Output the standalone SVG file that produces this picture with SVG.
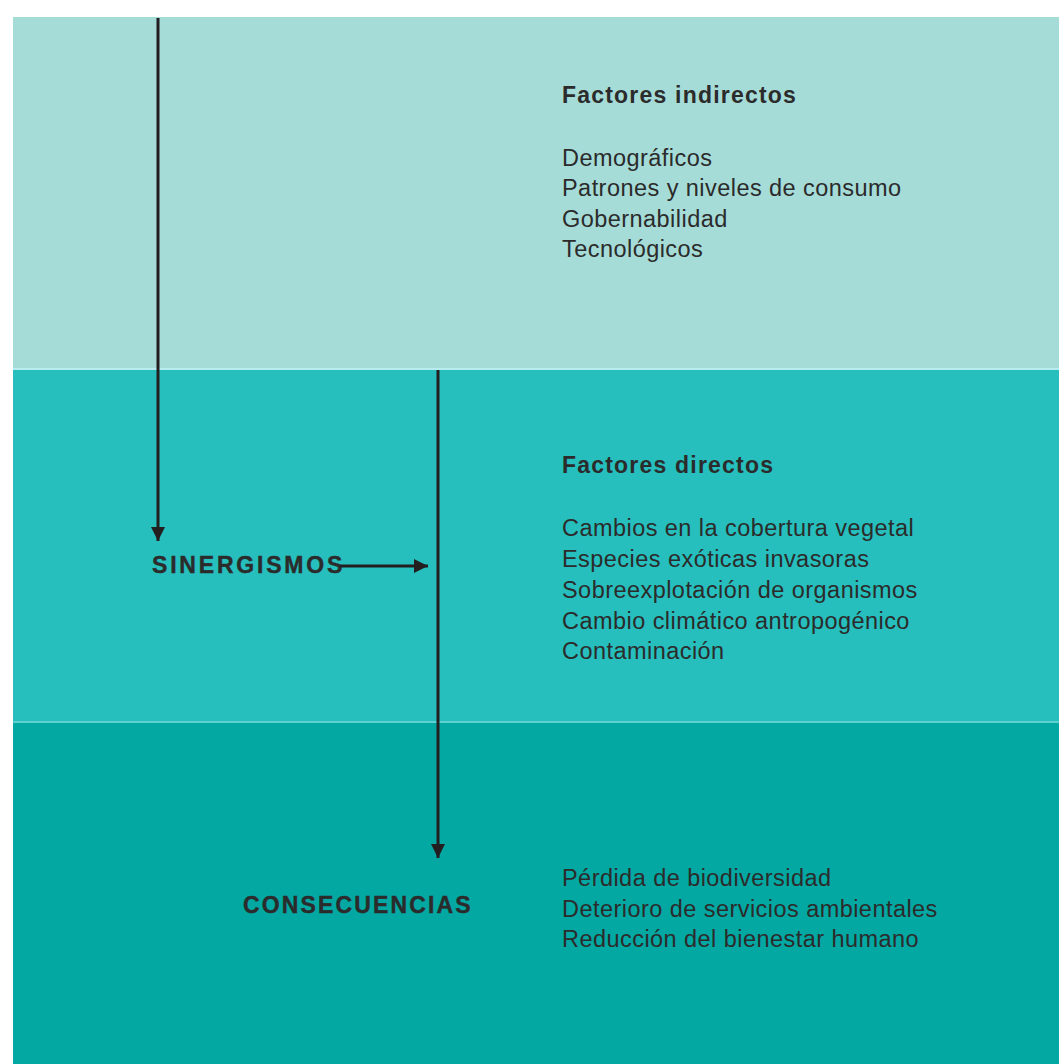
<svg xmlns="http://www.w3.org/2000/svg" width="1059" height="1064" viewBox="0 0 1059 1064">
<defs>
<marker id="ah" viewBox="0 0 10 10" refX="10" refY="5" markerWidth="14" markerHeight="14" markerUnits="userSpaceOnUse" orient="auto"><path d="M0,0 L10,5 L0,10 z" fill="#231f20"/></marker>
<style>
.t{font-family:"Liberation Sans",Arial,sans-serif;font-size:23.5px;fill:#2b2b2b;letter-spacing:0.45px}
.h{font-family:"Liberation Sans",Arial,sans-serif;font-size:23px;font-weight:bold;fill:#2b2b2b;letter-spacing:1.2px}
.lab{font-family:"Liberation Sans",Arial,sans-serif;font-size:23px;font-weight:bold;fill:#2b2b2b;stroke:#2b2b2b;stroke-width:0.4px;letter-spacing:2.8px}
.c{stroke:#231f20;stroke-width:3;fill:none}
</style>
</defs>
<rect width="1059" height="1064" fill="#ffffff"/>
<g id="panel-indirectos">
<rect x="13" y="17" width="1046" height="352" fill="#a6dcd8"/>
<text class="h" x="562" y="103">Factores indirectos</text>
<text class="t" x="562" y="166">Demográficos</text>
<text class="t" x="562" y="196">Patrones y niveles de consumo</text>
<text class="t" x="562" y="227">Gobernabilidad</text>
<text class="t" x="562" y="257">Tecnológicos</text>
</g>
<g id="panel-directos">
<rect x="13" y="369" width="1046" height="352" fill="#26bfbd"/>
<rect x="13" y="368" width="1046" height="2" fill="#b9ecef"/>
<text class="h" x="562" y="473">Factores directos</text>
<text class="t" x="562" y="536">Cambios en la cobertura vegetal</text>
<text class="t" x="562" y="567">Especies exóticas invasoras</text>
<text class="t" x="562" y="598">Sobreexplotación de organismos</text>
<text class="t" x="562" y="629">Cambio climático antropogénico</text>
<text class="t" x="562" y="659">Contaminación</text>
</g>
<g id="panel-consecuencias">
<rect x="13" y="721" width="1046" height="343" fill="#03a8a2"/>
<rect x="13" y="721" width="1046" height="2" fill="#5fd0d0"/>
<text class="t" x="562" y="886">Pérdida de biodiversidad</text>
<text class="t" x="562" y="917">Deterioro de servicios ambientales</text>
<text class="t" x="562" y="947">Reducción del bienestar humano</text>
</g>
<g id="sinergismos">
<text class="lab" x="152" y="573">SINERGISMOS</text>
</g>
<g id="consecuencias">
<text class="lab" x="243" y="913" style="letter-spacing:2.15px">CONSECUENCIAS</text>
</g>
<g id="connectors">
<line class="c" x1="158" y1="18" x2="158" y2="541" marker-end="url(#ah)"/>
<line class="c" x1="438" y1="370" x2="438" y2="858" marker-end="url(#ah)"/>
<line class="c" x1="340" y1="566" x2="428" y2="566" marker-end="url(#ah)"/>
</g>
</svg>
